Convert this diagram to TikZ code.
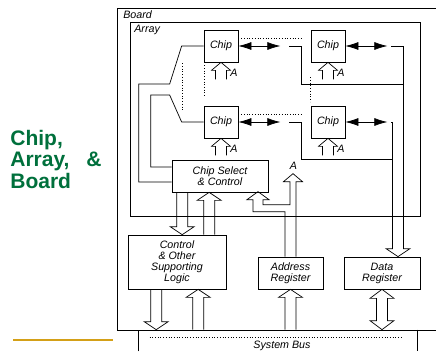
\documentclass[tikz,border=0pt]{standalone}
\usepackage{fontspec}
\setmainfont{Liberation Sans}
\definecolor{titlegreen}{RGB}{0,112,60}
\definecolor{rulegold}{RGB}{212,160,23}
\usetikzlibrary{arrows.meta,calc}

\begin{document}
\begin{tikzpicture}[x=1pt,y=-1pt,line width=0.7pt,
  every node/.style={font=\itshape\fontsize{10.7}{11}\selectfont},
  chipbox/.style={draw,minimum width=34pt,minimum height=32pt,inner sep=0pt},
  unitbox/.style={draw,align=center,inner sep=0pt},
  dataarrow/.style={{Latex[length=13pt,width=8pt]}-{Latex[length=13pt,width=8pt]}},
  blockup/.style={to path={let \p1=(\tikztostart), \p2=(\tikztotarget) in
    (\x1-5.5pt,\y1) -- (\x1-5.5pt,\y2-8pt) -- (\x1-#1,\y2-8pt) -- (\x1,\y2)
    -- (\x1+#1,\y2-8pt) -- (\x1+5.5pt,\y2-8pt) -- (\x1+5.5pt,\y1)}},
  blockup/.default=12pt,
  blockdown/.style={to path={let \p1=(\tikztostart), \p2=(\tikztotarget) in
    (\x1-5.5pt,\y1) -- (\x1-5.5pt,\y2+8pt) -- (\x1-12pt,\y2+8pt) -- (\x1,\y2)
    -- (\x1+12pt,\y2+8pt) -- (\x1+5.5pt,\y2+8pt) -- (\x1+5.5pt,\y1)}},
  blockboth/.style={to path={let \p1=(\tikztostart), \p2=(\tikztotarget) in
    (\x1-5.5pt,\y1-9pt) -- (\x1-12pt,\y1-9pt) -- (\x1,\y1) -- (\x1+12pt,\y1-9pt)
    -- (\x1+5.5pt,\y1-9pt) -- (\x1+5.5pt,\y2+9pt) -- (\x1+12pt,\y2+9pt) -- (\x1,\y2)
    -- (\x1-12pt,\y2+9pt) -- (\x1-5.5pt,\y2+9pt) -- cycle}}]
  \useasboundingbox (0,0) rectangle (436,351);

  %% Title
  \node[anchor=north west,inner sep=0pt,align=left,text=titlegreen,
        font=\bfseries\upshape\fontsize{21}{21.7}\selectfont]
        (title) at (10,129.5) {Chip,\\Array,\hspace{17pt}\&\\Board};
  \draw[rulegold,line width=1.6pt] (13,340) -- (113,340);

  %% Board and array frames
  \draw (436,8) -| (117,330) -- (436,330);
  \node[anchor=west,inner sep=0pt] (boardlabel) at (123,15) {Board};
  \draw (130,22) rectangle (420,216);
  \node[anchor=west,inner sep=0pt] (arraylabel) at (134,30) {Array};

  %% Chips
  \node[chipbox] (tl) at (221,46) {Chip};
  \node[chipbox] (tr) at (328,46) {Chip};
  \node[chipbox] (bl) at (221,122) {Chip};
  \node[chipbox] (br) at (328,122) {Chip};

  %% Units
  \node[unitbox,minimum width=96pt,minimum height=32pt] (cs) at (220,176) {Chip Select\\\& Control};
  \node[unitbox,minimum width=98pt,minimum height=54pt] (ctrl) at (177,262) {Control\\\& Other\\Supporting\\Logic};
  \node[unitbox,minimum width=65pt,minimum height=32pt] (addr) at (290.5,273) {Address\\Register};
  \node[unitbox,minimum width=76pt,minimum height=32pt] (data) at (382,273) {Data\\Register};

  %% System bus
  \node[minimum width=278pt,minimum height=21pt,inner sep=0pt] (bus) at (278,340.5) {};
  \draw (bus.south west) -- (bus.north west);
  \draw (bus.north east) -- (bus.south east);
  \draw[dotted] ($(bus.north west)+(11,8)$) -- ($(bus.north east)+(-15,8)$);
  \node (buslabel) at (282,346) {System Bus};

  %% Address inputs of the chips
  \draw[blockup=9.5pt] ([yshift=-17pt]tl.south) to (tl.south);
  \draw[blockup=9.5pt] ([yshift=-17pt]tr.south) to (tr.south);
  \draw[blockup=9.5pt] ([yshift=-17pt]bl.south) to (bl.south);
  \draw[blockup=9.5pt] ([yshift=-17pt]br.south) to (br.south);
  \node (tlA) at ($(tl.south)+(13,10)$) {A};
  \node (trA) at ($(tr.south)+(13,10)$) {A};
  \node (blA) at ($(bl.south)+(13,10)$) {A};
  \node (brA) at ($(br.south)+(13,10)$) {A};

  %% Dotted repeats between chips
  \draw[dotted] ([xshift=3pt,yshift=8pt]tl.east) -- ([xshift=-9pt,yshift=8pt]tr.west);
  \draw[dotted] ([xshift=3pt,yshift=8pt]bl.east) -- ([xshift=-9pt,yshift=8pt]br.west);
  \draw[dotted] ([xshift=1pt,yshift=-3pt]tl.south west) -- ([xshift=1pt,yshift=8pt]bl.north west);
  \draw[dotted] ([yshift=-15pt]tr.south west) -- ([yshift=4pt]br.north west);
  \draw[dotted] ([xshift=-21pt,yshift=-1pt]tl.south west) -- ([xshift=-21pt,yshift=-6pt]bl.north west);

  %% Data lines to the data register
  \coordinate (dbus) at ($(data.north)+(16,0)$);
  \coordinate (dtop) at (dbus |- br.east);
  \draw[blockdown] (dtop) to (dbus);
  \draw[dataarrow] (tl.east) -- ++(42,0);
  \draw[dataarrow] (tr.east) -- ++(42,0);
  \draw[dataarrow] (bl.east) -- ++(42,0);
  \draw[dataarrow] (br.east) -- ++(42,0);
  \draw ([xshift=51pt]tl.east) -- ++(12,0) |- ($(dtop)+(5.5,-38)$);
  \draw ([xshift=51pt]bl.east) -- ++(12,0) |- ($(dtop)+(-5.5,37)$);
  \draw ([xshift=46pt]tr.east) -| ($(dtop)+(5.5,0)$);
  \draw ([xshift=46pt]br.east) -- ($(dtop)+(-5.5,0)$);

  %% Chip select lines
  \draw ([yshift=-6pt]cs.west) -| ++(-33,-98) -- ++(31,0) -- ([xshift=-22pt]tl.west) -- (tl.west);
  \draw ([yshift=9pt]cs.west) -| ++(-21,-72) -- ++(19,0) -- ([xshift=-22pt]bl.west) -- (bl.west);

  %% Control paths
  \draw[blockdown] ($(cs.south west)+(10.5,0)$) to ($(ctrl.north west)+(54.5,0)$);
  \draw[blockup] ($(ctrl.north west)+(81.5,0)$) to ($(cs.south west)+(37.5,0)$);
  \draw[blockdown] ($(ctrl.south west)+(28.5,0)$) to ($(bus.north west)+(17.5,0)$);
  \draw[blockup] ($(bus.north west)+(59.5,0)$) to ($(ctrl.south west)+(70.5,0)$);
  \draw[blockup] (addr.south |- bus.north) to (addr.south);
  \draw[blockboth] (data.south) to (data.south |- bus.north);

  %% Address register out to the chips and to chip select
  \draw ($(addr.north)+(5.5,0)$) -- ++(0,-75) -- ++(6.5,0) -- ++(-9.5,-8) -- ++(-9.5,8)
    -- ++(6.5,0) -- ++(0,23) -| ++(-27,-5) -- ++(6,0) -- ++(-11,-8) -- ++(-11,8)
    -- ++(6,0) |- ++(32,12) -- ($(addr.north)+(-5.5,0)$);
  \node (addrA) at ($(addr.north)+(3,-91)$) {A};
\end{tikzpicture}
\end{document}
